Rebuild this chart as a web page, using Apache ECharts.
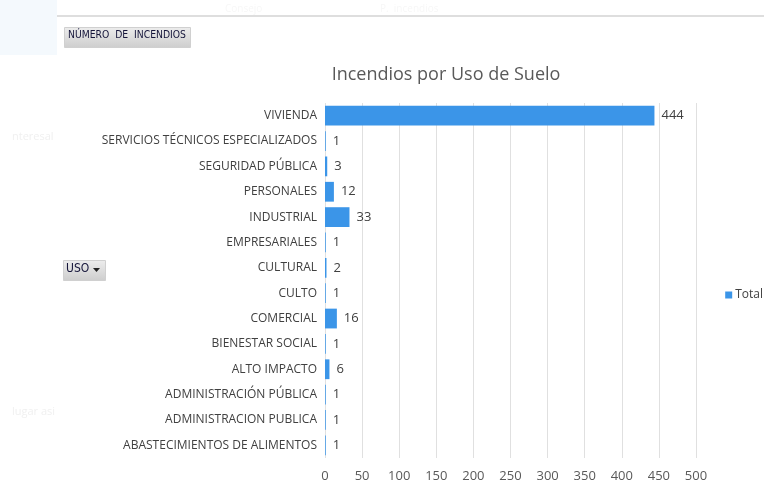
<!DOCTYPE html>
<html>
<head>
<meta charset="utf-8">
<script src="https://cdn.jsdelivr.net/npm/echarts@6/dist/echarts.min.js"></script>
<style>
  html, body { margin: 0; padding: 0; background: #fff; }
  #chart { width: 764px; height: 491px; }
</style>
</head>
<body>
<div id="chart"></div>
<script>
// categories from top to bottom as shown in the picture
const usos = [
  'VIVIENDA',
  'SERVICIOS TÉCNICOS ESPECIALIZADOS',
  'SEGURIDAD PÚBLICA',
  'PERSONALES',
  'INDUSTRIAL',
  'EMPRESARIALES',
  'CULTURAL',
  'CULTO',
  'COMERCIAL',
  'BIENESTAR SOCIAL',
  'ALTO IMPACTO',
  'ADMINISTRACIÓN PÚBLICA',
  'ADMINISTRACION PUBLICA',
  'ABASTECIMIENTOS DE ALIMENTOS'
]
const totales = [444, 1, 3, 12, 33, 1, 2, 1, 16, 1, 6, 1, 1, 1]
const xTicks = [0, 50, 100, 150, 200, 250, 300, 350, 400, 450, 500]

const font = '"Open Sans", "Noto Sans", sans-serif'
const btnFont = '"DejaVu Sans Condensed", "DejaVu Sans", sans-serif'
const chart = echarts.init(document.getElementById('chart'))

// gray gradient used by the pivot field buttons
const btnFill = () => new echarts.graphic.LinearGradient(0, 0, 0, 1, [
  { offset: 0, color: '#ededed' }, { offset: 1, color: '#cdcdcd' }
])

chart.setOption({
  backgroundColor: '#ffffff',
  animation: false,
  title: {
    text: 'Incendios por Uso de Suelo',
    left: 441,
    top: 61,
    textAlign: 'center',
    textStyle: { fontFamily: font, fontSize: 18, fontWeight: 'normal', color: '#595959' }
  },
  legend: {
    data: ['Total'],
    right: -4,
    top: 284,
    itemWidth: 7,
    itemHeight: 7,
    itemGap: 4,
    icon: 'rect',
    textStyle: { fontFamily: font, fontSize: 12, color: '#404040', padding: [0, 0, 0, -2] }
  },
  grid: { left: 325, right: 68, top: 103, bottom: 33, containLabel: false },
  xAxis: {
    type: 'value',
    min: xTicks[0],
    max: xTicks[xTicks.length - 1],
    interval: 50,
    axisLine: { show: false },
    axisTick: { show: false },
    axisLabel: { fontFamily: font, fontSize: 13, color: '#595959', margin: 12 },
    splitLine: { lineStyle: { color: '#e0e0e0', width: 1 } }
  },
  yAxis: {
    type: 'category',
    inverse: true,
    data: usos,
    axisLine: { show: false },
    axisTick: { show: false },
    axisLabel: { fontFamily: font, fontSize: 12, color: '#404040', margin: 8 }
  },
  series: [{
    name: 'Total',
    type: 'bar',
    data: totales,
    barCategoryGap: '22%',
    itemStyle: { color: '#3b95e8' },
    label: {
      show: true,
      position: 'right',
      distance: 7,
      fontFamily: font,
      fontSize: 13,
      color: '#404040'
    }
  }],
  graphic: [
    // faint pane at the top-left corner of the screenshot
    { type: 'rect', left: 0, top: 0, shape: { width: 57, height: 55 }, style: { fill: '#f4f9fd' }, silent: true },
    // sheet separator line near the top
    { type: 'rect', left: 57, top: 15, shape: { width: 707, height: 2 }, style: { fill: '#dedede' }, silent: true },
    { type: 'text', left: 225, top: 4, style: { text: 'Consejo', fill: '#f7f7f7', font: '10px ' + font } },
    { type: 'text', left: 380, top: 4, style: { text: 'P.  incendios', fill: '#f7f7f7', font: '10px ' + font } },
    { type: 'text', left: 12, top: 131, style: { text: 'nteresal', fill: '#f0f0f0', font: '11px ' + font } },
    { type: 'text', left: 12, top: 406, style: { text: 'lugar asi', fill: '#f0f0f0', font: '11px ' + font } },
    // pivot field button "NÚMERO DE INCENDIOS"
    {
      type: 'rect', left: 64, top: 27,
      shape: { width: 126, height: 20 },
      style: { fill: btnFill(), stroke: '#d0d0d0', lineWidth: 1 }
    },
    { type: 'text', left: 68, top: 30, style: { text: 'NÚMERO  DE  INCENDIOS', fill: '#15153a', font: '10.3px ' + btnFont } },
    // pivot field button "USO"
    {
      type: 'rect', left: 63, top: 260,
      shape: { width: 42, height: 20 },
      style: { fill: btnFill(), stroke: '#d0d0d0', lineWidth: 1 }
    },
    { type: 'text', left: 66, top: 263, style: { text: 'USO', fill: '#15153a', font: '12px ' + btnFont } },
    { type: 'polygon', shape: { points: [[93, 268], [100, 268], [96.5, 272]] }, style: { fill: '#222222' } }
  ]
})
</script>
</body>
</html>
